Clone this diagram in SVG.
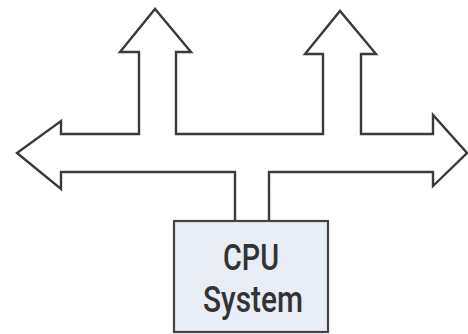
<svg xmlns="http://www.w3.org/2000/svg" width="468" height="334" viewBox="0 0 468 334">
  <style>
    .bus { fill: #ffffff; stroke: #3a3a3a; stroke-width: 2.4; stroke-linejoin: miter; }
    .box { fill: #e9edf6; stroke: #444444; stroke-width: 2.2; }
    .lbl { font-family: Roboto, "Liberation Sans", sans-serif; font-size: 37px; font-weight: 500; fill: #333333; text-anchor: middle; }
  </style>
  <rect width="468" height="334" fill="#ffffff"/>
  <g id="connectors">
    <path class="bus" d="M17,153 L61,121 L61,134 L139,134 L139,52 L120,52 L155,9 L191,52 L176,52 L176,134 L323,134 L323,54 L305,54 L340,11 L376,54 L361,54 L361,134 L433,134 L433,115 L467,153 L433,186 L433,172 L269,172 L269,222 L235,222 L235,172 L61,172 L61,189 Z"/>
  </g>
  <g id="cpu">
    <rect class="box" x="174" y="221" width="154" height="111"/>
    <text class="lbl" x="251" y="270" textLength="56" lengthAdjust="spacingAndGlyphs">CPU</text>
    <text class="lbl" x="253" y="312" textLength="100" lengthAdjust="spacingAndGlyphs">System</text>
  </g>
</svg>
